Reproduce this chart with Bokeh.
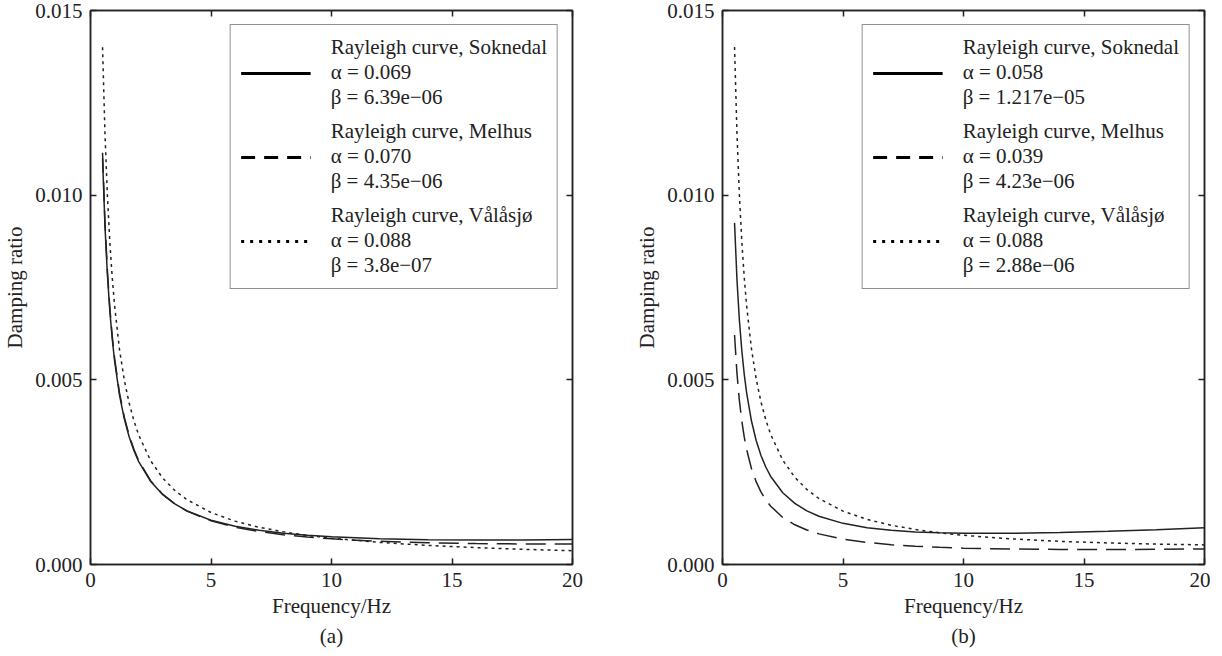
from bokeh.plotting import figure
from bokeh.models import Range1d, FixedTicker, PrintfTickFormatter, LinearAxis, Legend, LegendItem, Title
from bokeh.layouts import row
from bokeh.embed import file_html
from bokeh.resources import INLINE

# ---------------- data ----------------
freq = [0.5, 0.6, 0.7, 0.8, 0.9, 1.0, 1.2, 1.4, 1.6, 1.8, 2.0, 2.5, 3.0, 3.5, 4.0,
        5.0, 6.0, 7.0, 8.0, 9.0, 10.0, 12.0, 14.0, 16.0, 18.0, 20.0]

a_soknedal = [0.010992, 0.009164, 0.007858, 0.006880, 0.006119, 0.005511, 0.004600, 0.003950,
              0.003464, 0.003087, 0.002786, 0.002246, 0.001890, 0.001639, 0.001453, 0.001198,
              0.001035, 0.000925, 0.000847, 0.000791, 0.000750, 0.000699, 0.000673, 0.000664,
              0.000666, 0.000677]
a_melhus = [0.011148, 0.009292, 0.007968, 0.006974, 0.006201, 0.005584, 0.004658, 0.003998,
            0.003504, 0.003120, 0.002812, 0.002262, 0.001898, 0.001640, 0.001448, 0.001182,
            0.001010, 0.000892, 0.000805, 0.000742, 0.000694, 0.000628, 0.000589, 0.000567,
            0.000555, 0.000552]
a_valasjo = [0.014006, 0.011672, 0.010005, 0.008755, 0.007782, 0.007004, 0.005837, 0.005004,
             0.004379, 0.003893, 0.003504, 0.002804, 0.002338, 0.002005, 0.001756, 0.001407,
             0.001174, 0.001008, 0.000885, 0.000789, 0.000712, 0.000598, 0.000517, 0.000457,
             0.000410, 0.000374]

b_soknedal = [0.009250, 0.007716, 0.006621, 0.005800, 0.005162, 0.004654, 0.003892, 0.003351,
              0.002946, 0.002633, 0.002384, 0.001942, 0.001654, 0.001453, 0.001307, 0.001114,
              0.000998, 0.000927, 0.000883, 0.000857, 0.000844, 0.000844, 0.000865, 0.000900,
              0.000944, 0.000996]
b_melhus = [0.006214, 0.005181, 0.004443, 0.003890, 0.003460, 0.003117, 0.002602, 0.002236,
            0.001961, 0.001748, 0.001579, 0.001274, 0.001075, 0.000934, 0.000829, 0.000687,
            0.000597, 0.000536, 0.000494, 0.000465, 0.000443, 0.000418, 0.000408, 0.000407,
            0.000411, 0.000421]
b_valasjo = [0.014011, 0.011677, 0.010011, 0.008761, 0.007789, 0.007012, 0.005847, 0.005015,
             0.004391, 0.003907, 0.003520, 0.002824, 0.002361, 0.002033, 0.001787, 0.001446,
             0.001221, 0.001063, 0.000947, 0.000859, 0.000790, 0.000693, 0.000627, 0.000583,
             0.000552, 0.000531]

sites = ["Soknedal", "Melhus", "Vålåsjø"]
a_alpha = ["0.069", "0.070", "0.088"]
a_beta = ["6.39e−06", "4.35e−06", "3.8e−07"]
b_alpha = ["0.058", "0.039", "0.088"]
b_beta = ["1.217e−05", "4.23e−06", "2.88e−06"]

x_ticks = [0, 5, 10, 15, 20]
y_ticks = [0.0, 0.005, 0.010, 0.015]

FONT = "Liberation Serif"
FS = "21px"
INK = "#222222"
PLOT_DASH = ["solid", "20 9", "3 4"]
LEG_DASH = ["solid", "14 9", "3 6"]


def make_panel(tag, curves, alphas, betas, border_left, border_right):
    p = figure(frame_width=482, frame_height=554,
               min_border_left=border_left, min_border_right=border_right,
               min_border_top=10, min_border_bottom=76,
               x_range=Range1d(0, 20), y_range=Range1d(0, 0.015),
               output_backend="svg", toolbar_location=None,
               background_fill_color="white", border_fill_color="white")
    p.grid.visible = False
    p.outline_line_color = INK
    p.outline_line_width = 1.5

    for ax in (p.xaxis[0], p.yaxis[0]):
        ax.axis_line_color = INK
        ax.axis_line_width = 1.5
        ax.major_tick_line_color = INK
        ax.major_tick_line_width = 1.5
        ax.major_tick_in = 6
        ax.major_tick_out = 0
        ax.minor_tick_line_color = None
        ax.major_label_text_font = FONT
        ax.major_label_text_font_size = FS
        ax.major_label_text_color = INK
        ax.axis_label_text_font = FONT
        ax.axis_label_text_font_size = FS
        ax.axis_label_text_font_style = "normal"
        ax.axis_label_text_color = INK

    p.xaxis[0].ticker = FixedTicker(ticks=x_ticks)
    p.yaxis[0].ticker = FixedTicker(ticks=y_ticks)
    p.yaxis[0].formatter = PrintfTickFormatter(format="%.3f")
    p.xaxis[0].axis_label = "Frequency/Hz"
    p.yaxis[0].axis_label = "Damping ratio"
    p.xaxis[0].major_label_standoff = 8
    p.xaxis[0].axis_label_standoff = 4
    p.yaxis[0].major_label_standoff = 8
    p.yaxis[0].axis_label_standoff = 5

    # mirrored inward ticks on top / right (no labels drawn)
    for loc, ticks in (("above", x_ticks), ("right", y_ticks)):
        ax = LinearAxis(ticker=FixedTicker(ticks=ticks),
                        major_label_text_font_size="1px", major_label_text_color=None,
                        major_label_standoff=0,
                        major_tick_in=6, major_tick_out=0, minor_tick_line_color=None,
                        axis_line_color=INK, axis_line_width=1.5,
                        major_tick_line_color=INK, major_tick_line_width=1.5)
        p.add_layout(ax, loc)

    items = []
    for ys, pdash, ldash, site, al, be in zip(curves, PLOT_DASH, LEG_DASH, sites, alphas, betas):
        p.line(freq, ys, line_color=INK, line_width=1.5, line_dash=pdash)
        key = p.line(freq, ys, line_color="black", line_width=3, line_dash=ldash)
        key.visible = False
        label = "Rayleigh curve, %s\nα = %s\nβ = %s" % (site, al, be)
        items.append(LegendItem(label=label, renderers=[key]))

    leg = Legend(items=items, location="top_right", margin=14,
                 padding=10, spacing=9, glyph_width=70, label_standoff=20,
                 label_text_font=FONT, label_text_font_size=FS, label_text_color=INK,
                 label_text_line_height=1.2,
                 border_line_color=INK, border_line_width=1.5,
                 background_fill_color="white", background_fill_alpha=1.0)
    p.add_layout(leg)

    p.add_layout(Title(text=tag, align="center", text_font=FONT, text_font_size=FS,
                       text_font_style="normal", text_color=INK, standoff=2), "below")
    return p


pa = make_panel("(a)", [a_soknedal, a_melhus, a_valasjo], a_alpha, a_beta, 87, 28)
pb = make_panel("(b)", [b_soknedal, b_melhus, b_valasjo], b_alpha, b_beta, 122, 6)

layout = row(pa, pb)
open("out.html", "w").write(file_html(layout, INLINE))
